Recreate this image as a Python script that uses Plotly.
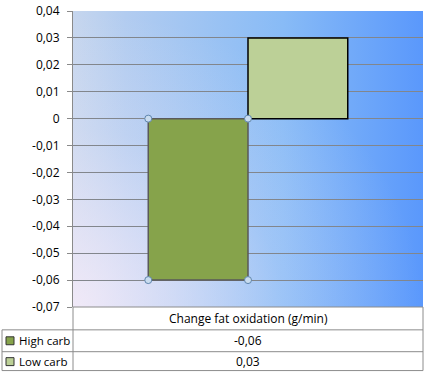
import base64
import plotly.graph_objects as go

# ---- data ----
category = "Change fat oxidation (g/min)"
series_names = ["High carb", "Low carb"]
series_values = [-0.06, 0.03]
series_labels = ["-0,06", "0,03"]
tick_values = [0.04, 0.03, 0.02, 0.01, 0, -0.01, -0.02, -0.03, -0.04, -0.05, -0.06, -0.07]
tick_labels = ["0,04", "0,03", "0,02", "0,01", "0", "-0,01", "-0,02", "-0,03", "-0,04", "-0,05", "-0,06", "-0,07"]

fill_colors = ["#86a34b", "#bcd097"]
edge_colors = ["#5a5a5a", "#000000"]
FONT = "Open Sans"

W, H = 425, 372
L, R, T, B = 73, 2, 9, 65
pw, ph = W - L - R, H - T - B

def px_x(p):
    return (p - L) / pw

def px_y(p):
    return (H - B - p) / ph

fig = go.Figure()
for name, v, fc, ec in zip(series_names, series_values, fill_colors, edge_colors):
    fig.add_trace(go.Bar(
        x=[category], y=[v], name=name,
        marker=dict(color=fc, line=dict(color=ec, width=1.5)),
        showlegend=False, hoverinfo="skip",
    ))

# gradient background
svg = """<svg xmlns='http://www.w3.org/2000/svg' width='350' height='298' preserveAspectRatio='none'>
<defs>
<linearGradient id='g' x1='0' y1='0' x2='1' y2='0'>
<stop offset='0' stop-color='#c6d6ee'/>
<stop offset='0.15' stop-color='#b2ccf0'/>
<stop offset='0.6' stop-color='#88bbf6'/>
<stop offset='1' stop-color='#5a98fc'/>
</linearGradient>
<radialGradient id='r' cx='0' cy='1' r='1' fx='0' fy='1'>
<stop offset='0' stop-color='#fbeefa' stop-opacity='0.8'/>
<stop offset='0.6' stop-color='#fbeefa' stop-opacity='0.18'/>
<stop offset='1' stop-color='#fbeefa' stop-opacity='0'/>
</radialGradient>
</defs>
<rect width='350' height='298' fill='url(#g)'/>
<rect width='350' height='298' fill='url(#r)'/>
</svg>"""
uri = "data:image/svg+xml;base64," + base64.b64encode(svg.encode()).decode()

shapes = []
line_col = "#8c8c8c"
# table lines
for py in [330, 352, 371]:
    shapes.append(dict(type="line", xref="paper", yref="paper", x0=px_x(2), x1=px_x(423),
                       y0=px_y(py), y1=px_y(py), line=dict(color=line_col, width=1)))
shapes.append(dict(type="line", xref="paper", yref="paper", x0=px_x(73), x1=px_x(423),
                   y0=px_y(307), y1=px_y(307), line=dict(color=line_col, width=1)))
shapes.append(dict(type="line", xref="paper", yref="paper", x0=px_x(73), x1=px_x(73),
                   y0=px_y(307), y1=px_y(371), line=dict(color=line_col, width=1)))
shapes.append(dict(type="line", xref="paper", yref="paper", x0=px_x(2), x1=px_x(2),
                   y0=px_y(330), y1=px_y(371), line=dict(color=line_col, width=1)))
shapes.append(dict(type="line", xref="paper", yref="paper", x0=px_x(423), x1=px_x(423),
                   y0=px_y(307), y1=px_y(371), line=dict(color=line_col, width=1)))

# legend keys in the table
annotations = []
row_y = [341, 362]
for name, lab, fc, ry in zip(series_names, series_labels, fill_colors, row_y):
    shapes.append(dict(type="rect", xref="paper", yref="paper",
                       x0=px_x(6), x1=px_x(14), y0=px_y(ry + 4), y1=px_y(ry - 4),
                       fillcolor=fc, line=dict(color="#333333", width=1)))
    annotations.append(dict(text=name, xref="paper", yref="paper", x=px_x(17), y=px_y(ry),
                            xanchor="left", yanchor="middle", showarrow=False,
                            font=dict(family=FONT, size=11.5, color="#000")))
    annotations.append(dict(text=lab, xref="paper", yref="paper", x=px_x(248), y=px_y(ry),
                            xanchor="center", yanchor="middle", showarrow=False,
                            font=dict(family=FONT, size=12, color="#000")))
annotations.append(dict(text=category, xref="paper", yref="paper", x=px_x(248), y=px_y(319),
                        xanchor="center", yanchor="middle", showarrow=False,
                        font=dict(family=FONT, size=12, color="#000")))

# selection handles on the High carb bar
half = (1 - 0.43) / 2
for xv in [-half, 0]:
    for yv in [0, series_values[0]]:
        shapes.append(dict(type="circle", xref="x", yref="y", xsizemode="pixel", ysizemode="pixel",
                           xanchor=xv, yanchor=yv, x0=-3.5, x1=3.5, y0=-3.5, y1=3.5,
                           fillcolor="#c9dcef", line=dict(color="#5f86ad", width=1)))

fig.update_layout(
    width=W, height=H,
    margin=dict(l=L, r=R, t=T, b=B, pad=0),
    paper_bgcolor="white",
    plot_bgcolor="rgba(0,0,0,0)",
    barmode="group", bargap=0.43, bargroupgap=0,
    images=[dict(source=uri, xref="paper", yref="paper", x=0, y=1, sizex=1, sizey=1,
                 sizing="stretch", layer="below", xanchor="left", yanchor="top")],
    shapes=shapes,
    annotations=annotations,
    showlegend=False,
    font=dict(family=FONT, size=12, color="#000"),
)
fig.update_xaxes(showticklabels=False, showgrid=False, zeroline=False, showline=False, ticks="")
fig.update_yaxes(range=[-0.07, 0.04], tickvals=tick_values, ticktext=tick_labels,
                 showgrid=True, gridcolor="#82868c", gridwidth=1, zeroline=False,
                 showline=True, linecolor="#8a8a8a", linewidth=1,
                 ticks="outside", ticklen=5, tickcolor="#8a8a8a", ticklabelstandoff=5,
                 tickfont=dict(family=FONT, size=12, color="#000"))

fig.write_html("out.html", config={"displayModeBar": False},
               post_script="document.body.style.margin='0';document.body.style.overflow='hidden';")
